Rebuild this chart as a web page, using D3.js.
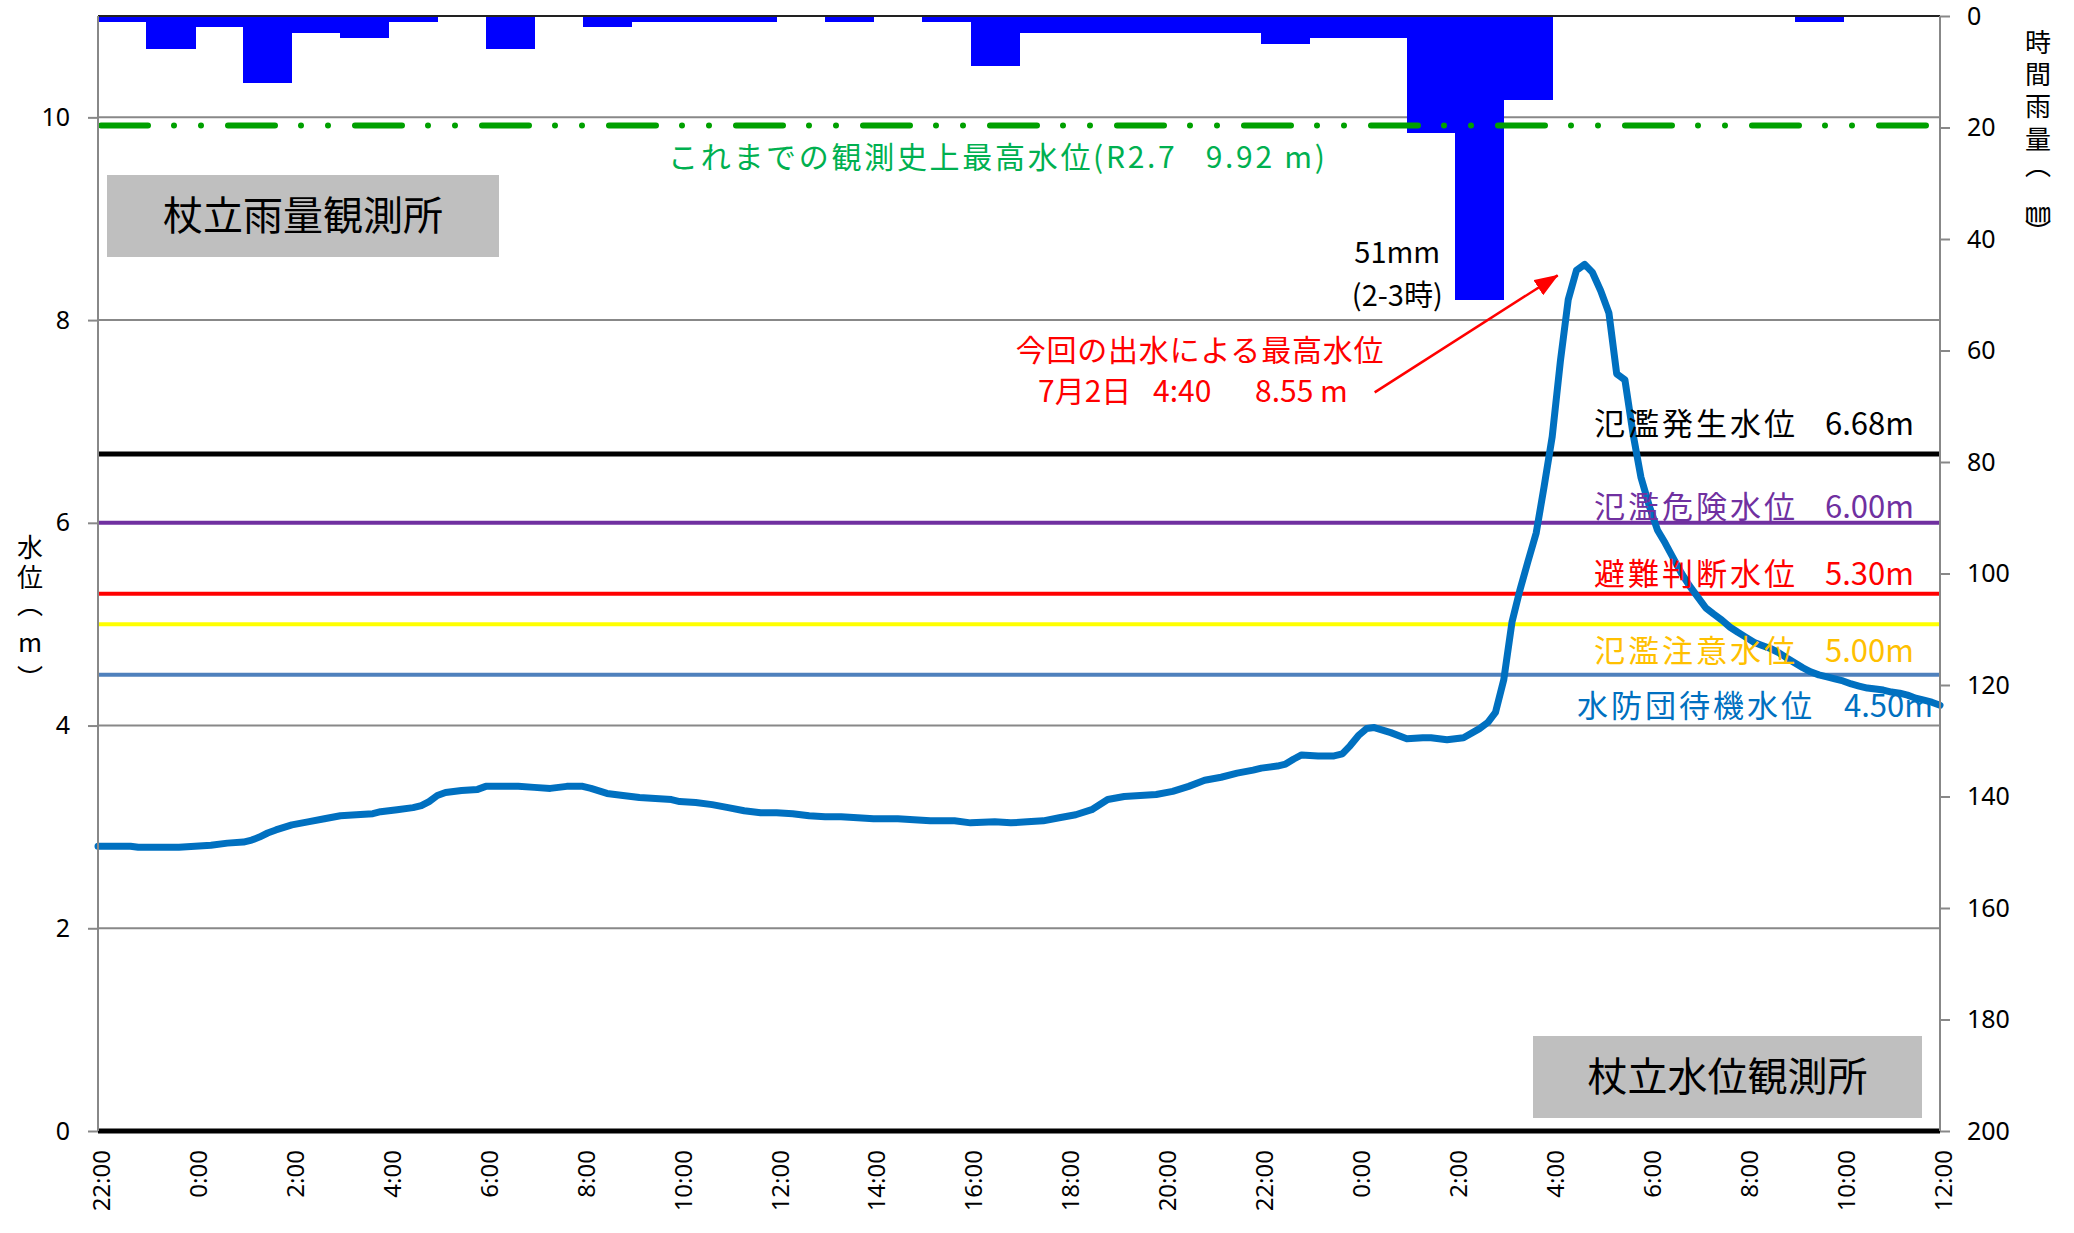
<!DOCTYPE html>
<html lang="ja">
<head>
<meta charset="utf-8">
<title>杖立水位観測所</title>
<script src="https://cdn.jsdelivr.net/npm/d3@7"></script>
<style>
  body { margin: 0; background: #fff; }
  text { font-family: "Noto Sans CJK JP", "Noto Sans", sans-serif; }
  .num text, text.num { font-family: "Noto Sans", "DejaVu Sans", sans-serif; }
</style>
</head>
<body>
<div id="chart"></div>
<script>
// 6/30 22:00 開始、7/2 12:00 まで (38時間)
const startTime = new Date(2023, 5, 30, 22, 0);
const spanHours = 38;

// 時間雨量 (mm) 22時台から1時間ごと
const rainHourly = [1, 6, 2, 12, 3, 4, 1, 0, 6, 0, 2, 1, 1, 1, 0, 1, 0, 1, 9,
  3, 3, 3, 3, 3, 5, 4, 4, 21, 51, 15, 0, 0, 0, 0, 0, 1, 0, 0];

// 水位 : 開始からの経過時間(h) と 水位(m)
const levelHour = [0, 0.33, 0.67, 0.83, 1, 1.33, 1.67, 2, 2.33, 2.67, 3, 3.17, 3.33, 3.5, 3.67,
  4, 4.33, 4.67, 5, 5.33, 5.67, 5.83, 6.17, 6.5, 6.67, 6.83, 7, 7.17, 7.5, 7.83,
  8, 8.33, 8.67, 9, 9.33, 9.67, 10, 10.17, 10.5, 10.83, 11.17, 11.5, 11.83,
  12, 12.33, 12.67, 13, 13.33, 13.67, 14, 14.33, 14.67, 15, 15.33, 15.67,
  16, 16.5, 16.83, 17.17, 17.67, 18, 18.5, 18.83, 19.17, 19.5, 19.83,
  20.17, 20.5, 20.83, 21.17, 21.5, 21.83, 22.17, 22.5, 22.83, 23.17, 23.5, 23.83,
  24, 24.33, 24.5, 24.67, 24.83, 25.17, 25.5, 25.67, 25.83, 26, 26.17, 26.33, 26.67,
  27, 27.33, 27.5, 27.83, 28.17, 28.5, 28.67, 28.83, 29, 29.17, 29.33, 29.5, 29.67, 29.83,
  30, 30.17, 30.33, 30.5, 30.67, 30.83, 31, 31.17, 31.33, 31.5, 31.67, 31.83,
  32, 32.17, 32.33, 32.5, 32.67, 32.83, 33, 33.17, 33.33, 33.5, 33.67, 33.83,
  34, 34.17, 34.33, 34.5, 34.67, 34.83, 35, 35.17, 35.33, 35.5, 35.67, 35.83,
  36, 36.17, 36.33, 36.5, 36.67, 36.83, 37, 37.17, 37.33, 37.5, 37.67, 37.83, 38];
const levelValue = [2.81, 2.81, 2.81, 2.80, 2.80, 2.80, 2.80, 2.81, 2.82, 2.84, 2.85, 2.87, 2.90, 2.94, 2.97,
  3.02, 3.05, 3.08, 3.11, 3.12, 3.13, 3.15, 3.17, 3.19, 3.21, 3.25, 3.31, 3.34, 3.36, 3.37,
  3.40, 3.40, 3.40, 3.39, 3.38, 3.40, 3.40, 3.38, 3.33, 3.31, 3.29, 3.28, 3.27,
  3.25, 3.24, 3.22, 3.19, 3.16, 3.14, 3.14, 3.13, 3.11, 3.10, 3.10, 3.09,
  3.08, 3.08, 3.07, 3.06, 3.06, 3.04, 3.05, 3.04, 3.05, 3.06, 3.09,
  3.12, 3.17, 3.27, 3.30, 3.31, 3.32, 3.35, 3.40, 3.46, 3.49, 3.53, 3.56,
  3.58, 3.60, 3.62, 3.67, 3.71, 3.70, 3.70, 3.72, 3.80, 3.90, 3.97, 3.98, 3.93,
  3.87, 3.88, 3.88, 3.86, 3.88, 3.97, 4.03, 4.13, 4.45, 5.02, 5.33, 5.62, 5.90, 6.35,
  6.85, 7.60, 8.20, 8.49, 8.55, 8.47, 8.29, 8.07, 7.47, 7.41, 6.87, 6.45,
  6.17, 5.93, 5.80, 5.65, 5.50, 5.38, 5.27, 5.16, 5.10, 5.04, 4.97, 4.92,
  4.87, 4.82, 4.79, 4.76, 4.72, 4.67, 4.62, 4.57, 4.53, 4.50, 4.48, 4.46,
  4.44, 4.41, 4.39, 4.37, 4.36, 4.35, 4.33, 4.32, 4.30, 4.27, 4.25, 4.23, 4.20];

// 基準水位
const thresholdNames = ["氾濫発生水位", "氾濫危険水位", "避難判断水位", "氾濫注意水位", "水防団待機水位"];
const thresholdValues = [6.68, 6.00, 5.30, 5.00, 4.50];
const thresholdTexts = ["6.68m", "6.00m", "5.30m", "5.00m", "4.50m"];

const recordLevel = 9.92;
const recordText = "これまでの観測史上最高水位(R2.7\u00a0\u00a0\u00a09.92 m)";
const peakHour = 30.67;
const peakLevel = 8.55;
const peakText1 = "今回の出水による最高水位";
const peakText2 = ["7月2日", "4:40", "8.55 m"];
const maxRainHour = 28;
const maxRainText = ["51mm", "(2-3時)"];

const leftTicks = [0, 2, 4, 6, 8, 10];
const rightTicks = [0, 20, 40, 60, 80, 100, 120, 140, 160, 180, 200];

// ---- 描画 ----
const W = 2074, H = 1233;
const plot = { left: 98, right: 1940, top: 16, bottom: 1131 };
const hourToDate = h => new Date(startTime.getTime() + h * 3600e3);

const svg = d3.select("#chart").append("svg")
  .attr("width", W).attr("height", H)
  .style("background", "#fff");

const x = d3.scaleTime()
  .domain([startTime, hourToDate(spanHours)])
  .range([plot.left, plot.right]);
const yL = d3.scaleLinear().domain([0, 11]).range([plot.bottom, plot.top]);
const yR = d3.scaleLinear().domain([0, 200]).range([plot.top, plot.bottom]);

const gridColor = "#888888";

// grid lines
svg.append("g").selectAll("line")
  .data(leftTicks.filter(d => d > 0))
  .enter().append("line")
  .attr("x1", plot.left).attr("x2", plot.right)
  .attr("y1", d => yL(d)).attr("y2", d => yL(d))
  .attr("stroke", gridColor).attr("stroke-width", 2);

// threshold lines
const thStyle = [
  { line: "#000000", width: 5, text: "#000000", dy: -19, endName: 1798, endVal: 1914 },
  { line: "#7030A0", width: 4, text: "#7030A0", dy: -5, endName: 1798, endVal: 1914 },
  { line: "#FF0000", width: 4, text: "#FF0000", dy: -9, endName: 1798, endVal: 1914 },
  { line: "#FFFF00", width: 4, text: "#FFC000", dy: 38, endName: 1798, endVal: 1914 },
  { line: "#4F81BD", width: 4, text: "#0070C0", dy: 42, endName: 1815, endVal: 1933 }
];
const thData = thresholdValues.map((v, i) => ({ v, name: thresholdNames[i], label: thresholdTexts[i], s: thStyle[i] }));

svg.append("g").selectAll("line")
  .data(thData.slice().reverse())
  .enter().append("line")
  .attr("x1", plot.left).attr("x2", plot.right)
  .attr("y1", d => yL(d.v)).attr("y2", d => yL(d.v))
  .attr("stroke", d => d.s.line).attr("stroke-width", d => d.s.width);

// rain bars (hang from top)
const rainData = rainHourly.map((v, i) => ({ t0: hourToDate(i), t1: hourToDate(i + 1), v }));
svg.append("g").attr("shape-rendering", "crispEdges")
  .selectAll("rect")
  .data(rainData.filter(d => d.v > 0))
  .enter().append("rect")
  .attr("x", d => x(d.t0))
  .attr("width", d => x(d.t1) - x(d.t0) + 0.6)
  .attr("y", yR(0))
  .attr("height", d => yR(d.v) - yR(0))
  .attr("fill", "#0000FF");

// record level (dash-dot-dot)
svg.append("line")
  .attr("x1", plot.left + 3).attr("x2", plot.right - 4)
  .attr("y1", yL(recordLevel)).attr("y2", yL(recordLevel))
  .attr("stroke", "#00A000").attr("stroke-width", 6)
  .attr("stroke-linecap", "round")
  .attr("stroke-dasharray", "47 26 0 27 0 27");

svg.append("text")
  .attr("x", 668).attr("y", 168)
  .attr("font-size", 30).attr("letter-spacing", 2.7)
  .attr("fill", "#00B050")
  .text(recordText);

// station boxes
const boxes = [
  { x: 107, y: 175, w: 392, h: 82, text: "杖立雨量観測所" },
  { x: 1533, y: 1036, w: 389, h: 82, text: "杖立水位観測所" }
];
svg.append("g").selectAll("rect")
  .data(boxes).enter().append("rect")
  .attr("x", d => d.x).attr("y", d => d.y)
  .attr("width", d => d.w).attr("height", d => d.h)
  .attr("fill", "#BFBFBF");
svg.append("g").selectAll("text")
  .data(boxes).enter().append("text")
  .attr("x", d => d.x + d.w / 2).attr("y", d => d.y + d.h / 2 + 14)
  .attr("text-anchor", "middle")
  .attr("font-size", 40).attr("fill", "#000")
  .text(d => d.text);

// water level line
const levelData = levelHour.map((h, i) => ({ t: hourToDate(h), v: levelValue[i] }));
svg.append("path")
  .datum(levelData)
  .attr("fill", "none")
  .attr("stroke", "#0070C0")
  .attr("stroke-width", 7)
  .attr("stroke-linejoin", "round")
  .attr("stroke-linecap", "round")
  .attr("d", d3.line().x(d => x(d.t)).y(d => yL(d.v)));

// frame lines
svg.append("line")
  .attr("x1", plot.left).attr("x2", plot.right)
  .attr("y1", plot.top).attr("y2", plot.top)
  .attr("stroke", "#222").attr("stroke-width", 2);
svg.append("line")
  .attr("x1", plot.left).attr("x2", plot.right)
  .attr("y1", yL(0)).attr("y2", yL(0))
  .attr("stroke", "#000").attr("stroke-width", 5);

// left axis
const axL = svg.append("g").attr("class", "num")
  .attr("transform", `translate(${plot.left},0)`)
  .call(d3.axisLeft(yL).tickValues(leftTicks).tickSize(10).tickPadding(18));
// right axis
const axR = svg.append("g").attr("class", "num")
  .attr("transform", `translate(${plot.right},0)`)
  .call(d3.axisRight(yR).tickValues(rightTicks).tickSize(10).tickPadding(17));
[axL, axR].forEach(ax => {
  ax.select(".domain").attr("stroke", gridColor).attr("stroke-width", 2)
    .attr("d", `M0,${plot.top}V${plot.bottom}`);
  ax.selectAll(".tick line").attr("stroke", gridColor).attr("stroke-width", 2);
  ax.selectAll(".tick text").attr("font-size", 25).attr("fill", "#000");
});

// x axis (rotated labels)
const axX = svg.append("g").attr("class", "num")
  .attr("transform", `translate(0,${plot.bottom})`)
  .call(d3.axisBottom(x)
    .ticks(d3.timeHour.every(2))
    .tickFormat(d3.timeFormat("%-H:%M"))
    .tickSize(0));
axX.select(".domain").remove();
axX.selectAll(".tick text")
  .attr("font-size", 24).attr("fill", "#000")
  .attr("text-anchor", "end")
  .attr("transform", "rotate(-90)")
  .attr("x", -19).attr("y", 3).attr("dy", "0.35em");

// threshold labels
const thLabels = svg.append("g");
thLabels.selectAll("text.name")
  .data(thData).enter().append("text").attr("class", "name")
  .attr("x", d => d.s.endName).attr("y", d => yL(d.v) + d.s.dy)
  .attr("text-anchor", "end").attr("font-size", 31).attr("letter-spacing", 3)
  .attr("fill", d => d.s.text).text(d => d.name);
thLabels.selectAll("text.val")
  .data(thData).enter().append("text").attr("class", "val")
  .attr("x", d => d.s.endVal).attr("y", d => yL(d.v) + d.s.dy)
  .attr("text-anchor", "end").attr("font-size", 31)
  .attr("fill", d => d.s.text).text(d => d.label);

// peak annotation
const px = x(hourToDate(peakHour)), py = yL(peakLevel);
svg.append("defs").append("marker")
  .attr("id", "arrow").attr("markerUnits", "userSpaceOnUse")
  .attr("markerWidth", 24).attr("markerHeight", 18)
  .attr("refX", 23).attr("refY", 9).attr("orient", "auto")
  .append("path").attr("d", "M0,0L24,9L0,18Z").attr("fill", "#FF0000");
svg.append("line")
  .attr("x1", px - 210).attr("y1", py + 128)
  .attr("x2", px - 27).attr("y2", py + 11)
  .attr("stroke", "#FF0000").attr("stroke-width", 2.5)
  .attr("marker-end", "url(#arrow)");
svg.append("text")
  .attr("x", 1200).attr("y", 361).attr("text-anchor", "middle")
  .attr("font-size", 30).attr("letter-spacing", 0.8)
  .attr("fill", "#FF0000").text(peakText1);
svg.append("g").selectAll("text")
  .data(peakText2).enter().append("text")
  .attr("x", (d, i) => [1038, 1153, 1255][i]).attr("y", 402)
  .attr("font-size", 30).attr("fill", "#FF0000").text(d => d);

// max rain annotation
const rx = x(hourToDate(maxRainHour)) - 58;
svg.append("g").selectAll("text")
  .data(maxRainText).enter().append("text")
  .attr("x", rx).attr("y", (d, i) => [263, 306][i])
  .attr("text-anchor", "middle").attr("font-size", 29).attr("fill", "#000")
  .text(d => d);

// axis titles (vertical)
const leftTitle = [["水", 545], ["位", 575], ["︵", 602], ["m", 640], ["︶", 676]];
const rightTitle = [["時", 40], ["間", 72], ["雨", 104], ["量", 137], ["︵", 163], ["㎜", 210], ["︶", 230]];
[[leftTitle, 30], [rightTitle, 2038]].forEach(([chars, cx]) => {
  svg.append("g").selectAll("text")
    .data(chars).enter().append("text")
    .attr("x", cx).attr("y", d => d[1])
    .attr("text-anchor", "middle").attr("dominant-baseline", "central")
    .attr("font-size", 26).attr("fill", "#000")
    .text(d => d[0]);
});
</script>
</body>
</html>
